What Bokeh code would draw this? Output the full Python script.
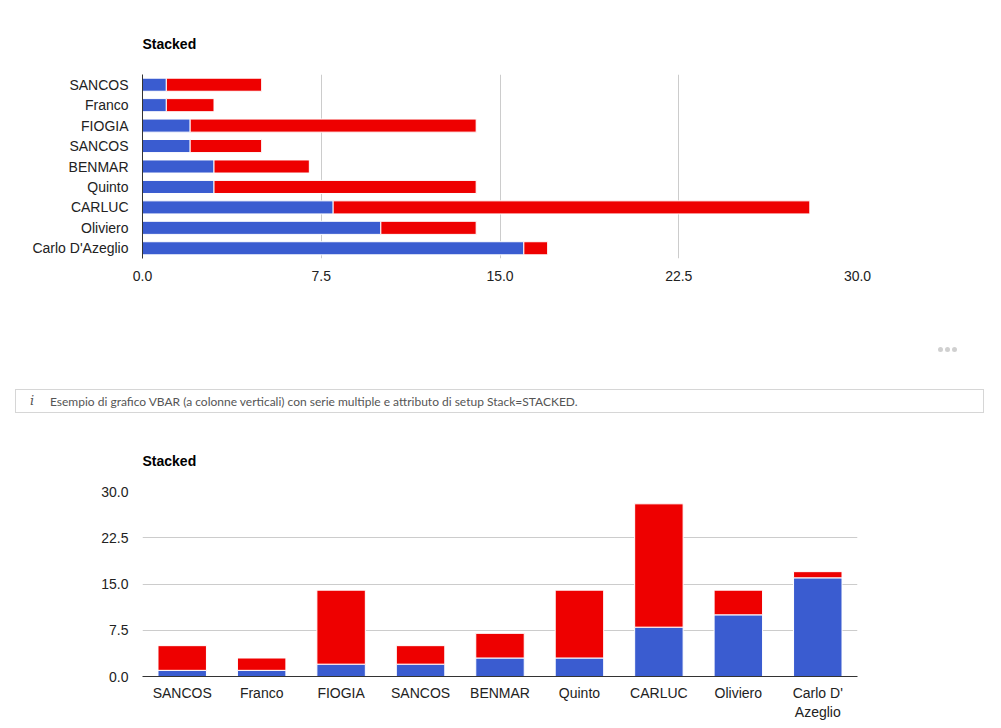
from bokeh.plotting import figure
from bokeh.layouts import column
from bokeh.models import ColumnDataSource, FixedTicker, PrintfTickFormatter, Range1d, Div, Title
from bokeh.embed import file_html
from bokeh.resources import INLINE

# ---- data ----
categories = ["SANCOS", "Franco", "FIOGIA", "SANCOS", "BENMAR", "Quinto", "CARLUC", "Oliviero", "Carlo D'Azeglio"]
vbar_labels = ["SANCOS", "Franco", "FIOGIA", "SANCOS", "BENMAR", "Quinto", "CARLUC", "Oliviero", "Carlo D'\nAzeglio"]
series_blue = [1, 1, 2, 2, 3, 3, 8, 10, 16]
series_red = [4, 2, 12, 3, 4, 11, 20, 4, 1]
value_ticks = [0, 7.5, 15, 22.5, 30]
title_text = "Stacked"
note_text = "Esempio di grafico VBAR (a colonne verticali) con serie multiple e attributo di setup Stack=STACKED."

BLUE = "#3a5cd0"
RED = "#ee0000"
GRID = "#cccccc"
FONT = "Liberation Sans"
TXT = "#222222"

n = len(categories)
totals = [b + r for b, r in zip(series_blue, series_red)]


def style_axis(ax, standoff, line_color):
    ax.axis_line_color = line_color
    ax.major_tick_line_color = None
    ax.minor_tick_line_color = None
    ax.major_tick_out = 0
    ax.major_tick_in = 0
    ax.minor_tick_out = 0
    ax.major_label_standoff = standoff
    ax.major_label_text_font = FONT
    ax.major_label_text_font_size = "14px"
    ax.major_label_text_color = TXT


def make_title():
    return Title(text=title_text, text_font=FONT, text_font_size="14px", text_font_style="bold",
                 text_color="#000000", align="left", standoff=46)


# ---------- horizontal stacked bar ----------
hpos = [n - 1 - i for i in range(n)]
hsrc = ColumnDataSource(dict(y=hpos, blue=series_blue, total=totals, zero=[0] * n))

p1 = figure(width=1000, height=300, output_backend="svg", toolbar_location=None,
            x_range=Range1d(0, 30), y_range=Range1d(-0.5, n - 0.5),
            min_border_left=142, min_border_right=143, min_border_top=74, min_border_bottom=42)
p1.title = make_title()
p1.hbar(y="y", left="zero", right="blue", height=0.64, source=hsrc,
        fill_color=BLUE, line_color="white", line_width=1)
p1.hbar(y="y", left="blue", right="total", height=0.64, source=hsrc,
        fill_color=RED, line_color="white", line_width=1)

p1.xaxis.ticker = FixedTicker(ticks=value_ticks)
p1.xaxis.formatter = PrintfTickFormatter(format="%.1f")
style_axis(p1.xaxis[0], 12, None)
p1.yaxis.ticker = FixedTicker(ticks=hpos)
p1.yaxis.major_label_overrides = {pos: cat for pos, cat in zip(hpos, categories)}
style_axis(p1.yaxis[0], 14, "#333333")
p1.xgrid.ticker = FixedTicker(ticks=value_ticks)
p1.xgrid.grid_line_color = GRID
p1.ygrid.grid_line_color = None
p1.outline_line_color = None

# ---------- middle note ----------
dot = "position:absolute;top:47px;width:5px;height:5px;border-radius:50%;background:#d0d0d0;"
div = Div(width=1000, height=120, margin=0, text=f"""
<div style="position:relative;width:1000px;height:120px;font-family:Lato,'Open Sans',sans-serif;">
  <div style="{dot}left:938px;"></div>
  <div style="{dot}left:945px;"></div>
  <div style="{dot}left:952px;"></div>
  <div style="position:absolute;left:15px;top:89px;width:967px;height:22px;border:1px solid #d6d6d6;box-sizing:content-box;">
    <span style="position:absolute;left:14px;top:2px;font-family:'DejaVu Serif',serif;font-style:italic;font-size:13px;color:#555555;">i</span>
    <span style="position:absolute;left:34px;top:3px;font-size:12px;color:#555555;white-space:nowrap;">{note_text}</span>
  </div>
</div>""")

# ---------- vertical stacked bar ----------
vpos = list(range(n))
vsrc = ColumnDataSource(dict(x=vpos, blue=series_blue, total=totals, zero=[0] * n))

p2 = figure(width=1000, height=302, output_backend="svg", toolbar_location=None,
            x_range=Range1d(-0.5, n - 0.5), y_range=Range1d(0, 30),
            min_border_left=142, min_border_right=142, min_border_top=71, min_border_bottom=46)
p2.title = make_title()
p2.vbar(x="x", bottom="zero", top="blue", width=0.61, source=vsrc,
        fill_color=BLUE, line_color="white", line_width=1)
p2.vbar(x="x", bottom="blue", top="total", width=0.61, source=vsrc,
        fill_color=RED, line_color="white", line_width=1)

p2.yaxis.ticker = FixedTicker(ticks=value_ticks)
p2.yaxis.formatter = PrintfTickFormatter(format="%.1f")
style_axis(p2.yaxis[0], 14, None)
p2.xaxis.ticker = FixedTicker(ticks=vpos)
p2.xaxis.major_label_overrides = {pos: lab for pos, lab in zip(vpos, vbar_labels)}
style_axis(p2.xaxis[0], 8, "#333333")
p2.ygrid.ticker = FixedTicker(ticks=value_ticks)
p2.ygrid.grid_line_color = GRID
p2.xgrid.grid_line_color = None
p2.outline_line_color = None

layout = column(p1, div, p2, spacing=0)
open("out.html", "w").write(file_html(layout, INLINE))
